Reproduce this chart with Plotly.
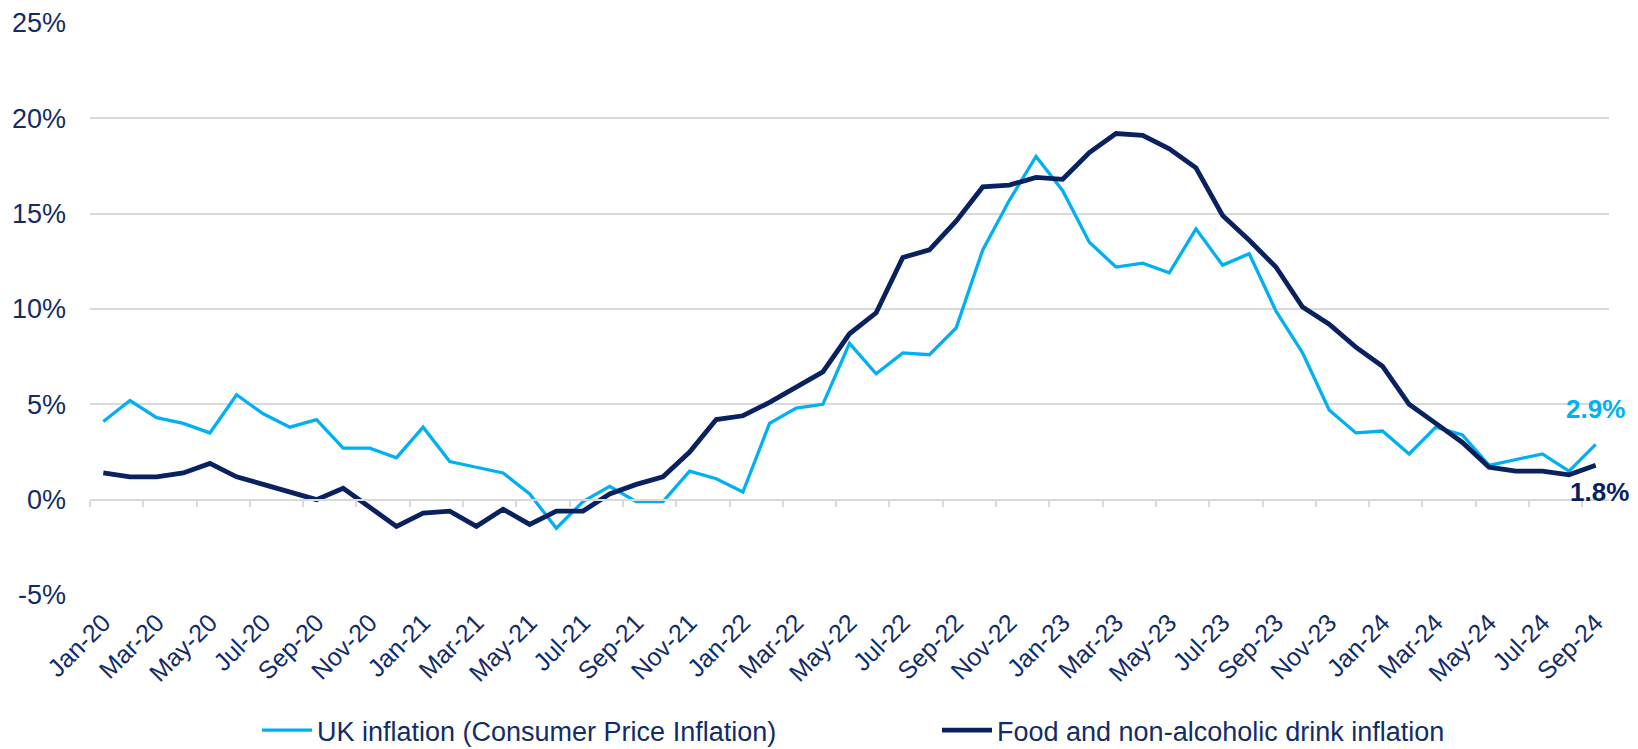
import pandas as pd
import plotly.graph_objects as go

# ---- data ----
months = list(pd.date_range("2020-01-01", "2024-09-01", freq="MS").strftime("%b-%y"))

uk_inflation = [
    4.1, 5.2, 4.3, 4.0, 3.5, 5.5, 4.5, 3.8, 4.2, 2.7, 2.7, 2.2,
    3.8, 2.0, 1.7, 1.4, 0.3, -1.5, -0.1, 0.7, -0.1, -0.1, 1.5, 1.1,
    0.4, 4.0, 4.8, 5.0, 8.2, 6.6, 7.7, 7.6, 9.0, 13.1, 15.7, 18.0,
    16.2, 13.5, 12.2, 12.4, 11.9, 14.2, 12.3, 12.9, 9.9, 7.7, 4.7, 3.5,
    3.6, 2.4, 3.8, 3.4, 1.8, 2.1, 2.4, 1.5, 2.9,
]
food_inflation = [
    1.4, 1.2, 1.2, 1.4, 1.9, 1.2, 0.8, 0.4, 0.0, 0.6, -0.4, -1.4,
    -0.7, -0.6, -1.4, -0.5, -1.3, -0.6, -0.6, 0.3, 0.8, 1.2, 2.5, 4.2,
    4.4, 5.1, 5.9, 6.7, 8.7, 9.8, 12.7, 13.1, 14.6, 16.4, 16.5, 16.9,
    16.8, 18.2, 19.2, 19.1, 18.4, 17.4, 14.9, 13.6, 12.2, 10.1, 9.2, 8.0,
    7.0, 5.0, 4.0, 3.0, 1.7, 1.5, 1.5, 1.3, 1.8,
]
series_names = ["UK inflation (Consumer Price Inflation)", "Food and non-alcoholic drink inflation"]
y_ticks = [-5, 0, 5, 10, 15, 20, 25]
y_tick_text = [f"{v}%" for v in y_ticks]
tick_labels = months[::2]

LIGHT = "#00b0f0"
DARK = "#0a2160"
TEXT = "#112c68"
GRID = "#d9d9d9"
FONT = "Arial, Liberation Sans, sans-serif"

# figure is drawn inside the page body (8px default margin), so it is 8px smaller
W, H = 1630, 741

ymin, ymax = y_ticks[0], y_ticks[-1]
ytop = ymax + 0.05
n = len(months)

fig = go.Figure()
fig.add_trace(go.Scatter(x=months, y=uk_inflation, name=series_names[0], mode="lines",
                         line=dict(color=LIGHT, width=3.3)))
fig.add_trace(go.Scatter(x=months, y=food_inflation, name=series_names[1], mode="lines",
                         line=dict(color=DARK, width=4.8)))
# helper trace so the 0% axis (xaxis2, with its tick marks) is drawn
fig.add_trace(go.Scatter(x=[0, n - 1], y=[None, None], xaxis="x2", yaxis="y",
                         mode="lines", showlegend=False, hoverinfo="skip"))

# end-value labels
fig.add_annotation(x=months[-1], y=uk_inflation[-1], text=f"{uk_inflation[-1]:.1f}%",
                   showarrow=False, yshift=35, xshift=0,
                   font=dict(family=FONT, size=26, color=LIGHT, weight="bold"))
fig.add_annotation(x=months[-1], y=food_inflation[-1], text=f"{food_inflation[-1]:.1f}%",
                   showarrow=False, yshift=-27, xshift=4,
                   font=dict(family=FONT, size=26, color=DARK, weight="bold"))

fig.update_layout(
    template="none",
    width=W, height=H,
    margin=dict(l=82, r=29, t=14, b=154, autoexpand=False),
    paper_bgcolor="white", plot_bgcolor="white",
    font=dict(family=FONT, color=TEXT, size=26),
    showlegend=True,
    legend=dict(orientation="h", xref="container", yref="container",
                x=249 / W, xanchor="left", y=1 - 698 / H, yanchor="top",
                itemwidth=50, entrywidth=615, font=dict(size=27, color=TEXT),
                bgcolor="rgba(0,0,0,0)"),
    xaxis=dict(type="category", categoryorder="array", categoryarray=months,
               range=[-0.5, n - 0.5], tickmode="array", tickvals=tick_labels,
               tickangle=-45, ticks="", showgrid=False, showline=False, zeroline=False,
               automargin=False, tickfont=dict(size=25, color=TEXT), ticklabelstandoff=7),
    xaxis2=dict(overlaying="x", anchor="free", position=(0 - ymin) / (ytop - ymin),
                range=[-0.5, n - 0.5], tickmode="array",
                tickvals=[i - 0.5 for i in range(0, n, 2)],
                ticks="outside", ticklen=6, tickwidth=2, tickcolor=GRID,
                showline=True, linecolor=GRID, linewidth=2, automargin=False,
                showticklabels=False, showgrid=False, zeroline=False),
    yaxis=dict(range=[ymin, ytop], tickmode="array", tickvals=y_ticks,
               ticktext=y_tick_text, showgrid=True, gridcolor=GRID, gridwidth=2,
               zeroline=False, showline=False, ticks="", ticklabelstandoff=23,
               automargin=False, tickfont=dict(size=27, color=TEXT)),
)

fig.write_html("out.html")
